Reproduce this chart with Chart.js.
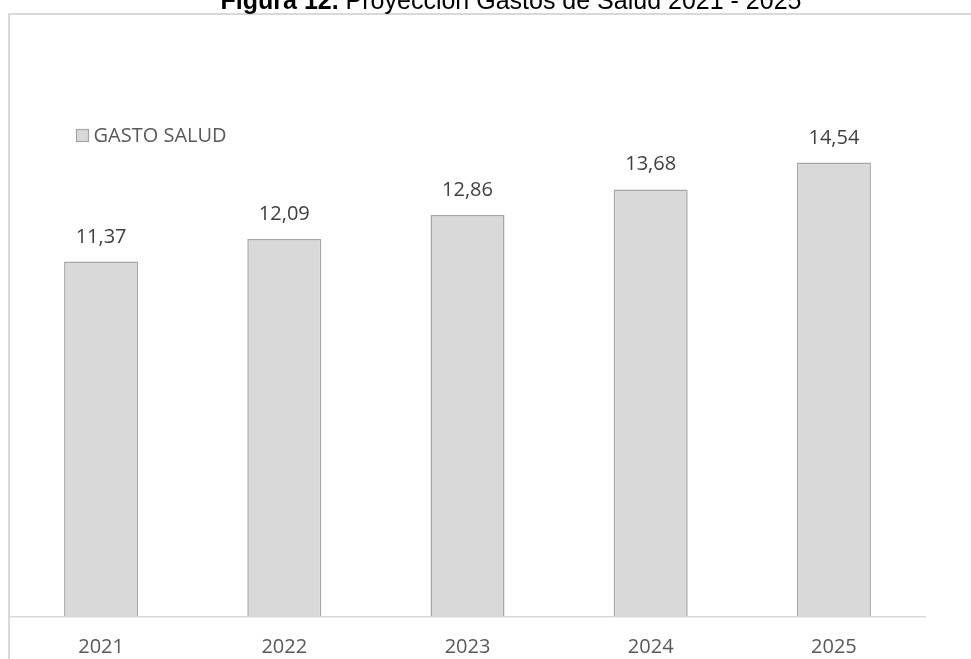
<!DOCTYPE html>
<html>
<head>
<meta charset="utf-8">
<script src="https://cdn.jsdelivr.net/npm/chart.js@4/dist/chart.umd.min.js"></script>
<style>
  html, body { margin: 0; padding: 0; background: #fff; }
  #wrap { width: 971px; height: 659px; position: relative; }
</style>
</head>
<body>
<div id="wrap"><canvas id="gasto"></canvas></div>
<script>
const years = ['2021', '2022', '2023', '2024', '2025']
const gastoSalud = [11.37, 12.09, 12.86, 13.68, 14.54]
const seriesName = 'GASTO SALUD'
const titleBold = 'Figura 12.'
const titleRest = ' Proyección Gastos de Salud 2021 - 2025'

const colors = {
    barFill: '#d9d9d9',
    barEdge: '#a6a6a6',
    frame: '#d9d9d9',
    label: '#404040',
    tick: '#595959',
    title: '#000000',
}
const labelFont = '"Open Sans", "DejaVu Sans", sans-serif'

const fmt = v => v.toFixed(2).replace('.', ',')

// outer frame, heading, legend and value labels
const decorations = {
    id: 'decorations',
    beforeDraw: (chart) => {
        const ctx = chart.ctx
        ctx.save()
        ctx.strokeStyle = colors.frame
        ctx.lineWidth = 2
        ctx.strokeRect(9, 14, 1000, 700)
        ctx.restore()
    },
    afterDraw: (chart) => {
        const ctx = chart.ctx
        ctx.save()

        // heading, bold part then regular part
        ctx.fillStyle = colors.title
        ctx.textBaseline = 'alphabetic'
        ctx.font = 'bold 25px "Liberation Sans", Arial, sans-serif'
        const w1 = ctx.measureText(titleBold).width
        ctx.font = '25px "Liberation Sans", Arial, sans-serif'
        const w2 = ctx.measureText(titleRest).width
        let x = 511 - (w1 + w2) / 2
        ctx.textAlign = 'left'
        ctx.font = 'bold 25px "Liberation Sans", Arial, sans-serif'
        ctx.fillText(titleBold, x, 9)
        ctx.font = '25px "Liberation Sans", Arial, sans-serif'
        ctx.fillText(titleRest, x + w1, 9)

        // legend inside the plot
        const ds = chart.data.datasets[0]
        ctx.fillStyle = ds.backgroundColor
        ctx.fillRect(76.5, 129.5, 12, 12)
        ctx.strokeStyle = ds.borderColor
        ctx.lineWidth = 1.2
        ctx.strokeRect(76.5, 129.5, 12, 12)
        ctx.fillStyle = colors.tick
        ctx.font = '20px ' + labelFont
        ctx.fillText(ds.label, 93.5, 142)

        // value above each bar
        ctx.fillStyle = colors.label
        ctx.textAlign = 'center'
        chart.getDatasetMeta(0).data.forEach((bar, i) => {
            ctx.fillText(fmt(ds.data[i]), bar.x, bar.y - 19)
        })
        ctx.restore()
    }
}

new Chart(document.getElementById('gasto'), {
    type: 'bar',
    data: {
        labels: years,
        datasets: [{
            label: seriesName,
            data: gastoSalud,
            backgroundColor: colors.barFill,
            borderColor: colors.barEdge,
            borderWidth: 1.5,
            barPercentage: 0.404,
            categoryPercentage: 1,
        }]
    },
    plugins: [decorations],
    options: {
        responsive: true,
        maintainAspectRatio: false,
        animation: false,
        layout: {
            padding: { left: 9.5, right: 45.5, top: 117, bottom: 0 }
        },
        plugins: {
            legend: { display: false },
            tooltip: { enabled: false },
            title: { display: false },
        },
        scales: {
            x: {
                grid: { display: false, drawTicks: false },
                border: { display: true, color: colors.frame, width: 1.5 },
                ticks: {
                    color: colors.tick,
                    padding: 19,
                    font: { family: labelFont, size: 20 },
                },
                afterFit: (scale) => { scale.height = 42.5 },
            },
            y: {
                display: false,
                min: 0,
                max: 16,
            }
        }
    }
})
</script>
</body>
</html>
